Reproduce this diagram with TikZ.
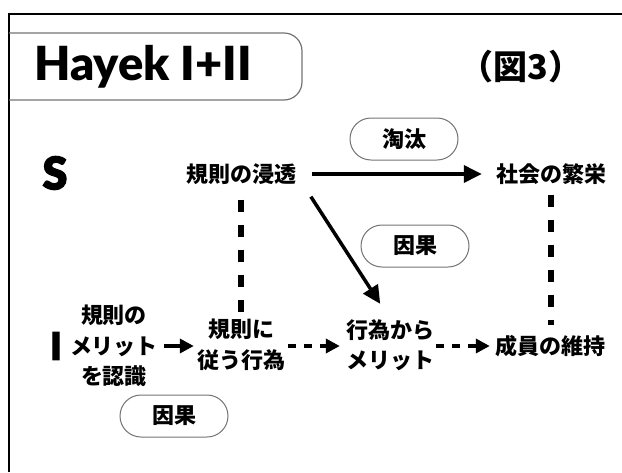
\documentclass[tikz,border=0pt]{standalone}
\usepackage{fontspec}
\newfontfamily\jp{Noto Sans CJK JP}
\newfontfamily\heavy{Lato Black}
\newfontfamily\heavier{Lato Black}[FakeBold=2.5]
\usetikzlibrary{arrows.meta,shapes.misc}
\begin{document}
\begin{tikzpicture}[x=1pt,y=-1pt,
  jptext/.style={font=\jp\bfseries\fontsize{22}{30.5}\selectfont, inner sep=0pt, align=center},
  pill/.style={draw=black!55, line width=1pt, rounded rectangle, minimum width=108pt, minimum height=42pt, inner sep=0pt, font=\jp\bfseries\fontsize{22}{25}\selectfont},
  solidarrow/.style={line width=3.5pt, -{Triangle[length=18pt,width=17pt]}},
  dasharrow/.style={line width=4pt, dash pattern=on 8pt off 8pt, -{Triangle[length=14pt,width=14pt]}},
  dashline/.style={line width=6pt, dash pattern=on 12pt off 13pt},
  bigletter/.style={font=\heavier\fontsize{45}{45}\selectfont, inner sep=0pt},
]
\useasboundingbox (0,0) rectangle (622,472);
% frame
\draw[line width=2pt] (9,472) -- (9,14) -- (622,14);
% title box
\draw[draw=black!55, line width=1.2pt, rounded corners=18pt] (9,33) -- (302,33) -- (302,100) -- (9,100);
\node[font=\heavy\fontsize{47}{47}\selectfont, inner sep=0pt] (title) at (143,67) {Hayek I+II};
\node[font=\jp\bfseries\fontsize{34}{34}\selectfont, inner sep=0pt] (fig) at (521,67) {（図3）};
% row labels
\node[bigletter] (S) at (55,173) {S};
\node[bigletter, font=\heavier\fontsize{38}{38}\selectfont] (I) at (56,346) {I};
% upper row
\node[jptext] (shin) at (241,174) {規則の浸透};
\node[jptext] (han) at (551,174) {社会の繁栄};
\node[pill] (tota) at (404,139) {淘汰};
\node[pill] (inga1) at (415,246) {因果};
% lower row
\node[jptext] (nin) at (114,346) {規則の\\メリット\\を認識};
\node[jptext] (kou) at (241,345) {規則に\\従う行為};
\node[jptext] (kara) at (390,345) {行為から\\メリット};
\node[jptext] (iji) at (550,346) {成員の維持};
\node[pill] (inga2) at (174,416) {因果};
% connectors
\draw[solidarrow, shorten <=16pt, shorten >=14pt] (shin.east) -- (han.west);
\draw[solidarrow, shorten <=27pt, shorten >=18pt] (shin.east) -- (kara.north);
\draw[dashline, shorten <=15pt, shorten >=7pt] (shin.south) -- (shin.south |- kou.north);
\draw[dashline, shorten <=10pt, shorten >=10pt] (han.south) -- (han.south |- iji.north);
\draw[solidarrow, -{Triangle[length=14pt,width=14pt]}, shorten <=6pt, shorten >=3pt] (nin.east |- iji) -- (kou.west |- iji);
\draw[dasharrow, shorten <=3pt, shorten >=6pt] (kou.east |- iji) -- (kara.west |- iji);
\draw[dasharrow, shorten <=2pt, shorten >=5pt] (kara.east |- iji) -- (iji.west);
\end{tikzpicture}
\end{document}
